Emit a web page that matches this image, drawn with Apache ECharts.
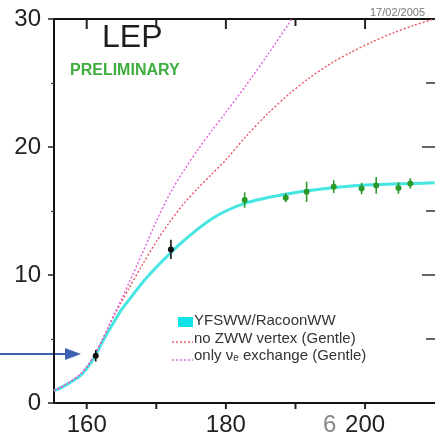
<!DOCTYPE html>
<html>
<head>
<meta charset="utf-8">
<script src="https://cdn.jsdelivr.net/npm/echarts@6/dist/echarts.min.js"></script>
<style>
  html, body { margin: 0; padding: 0; background: #fff; }
  #main { width: 435px; height: 437px; }
</style>
</head>
<body>
<div id="main"></div>
<script>
// sqrt(s) grid for the theory curves
var energy = [155.3, 157, 159, 160, 161, 162, 163, 164, 165, 166, 168, 170, 172, 174, 176, 178, 180, 183, 186, 189, 192, 195, 198, 201, 204, 207, 210];
var yfsww  = [0.95, 1.4, 2.1, 2.7, 3.45, 4.5, 5.5, 6.4, 7.3, 8.0, 9.4, 10.6, 11.7, 12.7, 13.6, 14.4, 15.0, 15.65, 16.05, 16.35, 16.6, 16.8, 16.95, 17.05, 17.1, 17.15, 17.2];
var noZww  = [0.95, 1.45, 2.2, 2.8, 3.6, 4.65, 5.8, 6.9, 7.9, 8.9, 10.8, 12.6, 14.2, 15.6, 16.8, 17.9, 19.0, 20.9, 22.6, 24.1, 25.4, 26.5, 27.4, 28.2, 28.9, 29.5, 30.0];
var nuEnergy = [155.3, 157, 159, 160, 161, 162, 163, 164, 165, 166, 168, 170, 172, 174, 176, 178, 180, 183, 186, 189, 190];
var nuOnly   = [0.95, 1.45, 2.2, 2.85, 3.65, 4.7, 5.8, 7.0, 8.1, 9.3, 11.7, 14.2, 16.4, 18.2, 19.8, 21.3, 22.7, 24.9, 27.2, 29.6, 30.4];

// measurements
var thrEnergy = [161.3, 172.1];
var thrXsec   = [3.69, 12.0];
var thrErr    = [0.45, 0.75];
var lepEnergy = [182.7, 188.6, 191.6, 195.5, 199.5, 201.6, 204.8, 206.5];
var lepXsec   = [15.86, 16.04, 16.5, 16.9, 16.75, 17.0, 16.8, 17.15];
var lepErr    = [0.6, 0.35, 0.8, 0.5, 0.45, 0.65, 0.45, 0.4];

var xTicks = [160, 170, 180, 190, 200];
var xLabels = [160, 180, 200];
var yTicks = [5, 10, 15, 20, 25];

var X_MIN = 155.3, X_MAX = 210.05, Y_MAX = 30;
var FONT = 'Liberation Sans';

function pairs(xs, ys) {
    return xs.map(function (x, i) { return [x, ys[i]]; });
}
function triples(xs, ys, es) {
    return xs.map(function (x, i) { return [x, ys[i], es[i]]; });
}

function errRender(color) {
    return function (params, api) {
        var x = api.value(0), y = api.value(1), e = api.value(2);
        var c = api.coord([x, y]);
        var hi = api.coord([x, y + e]);
        var lo = api.coord([x, y - e]);
        return {
            type: 'group',
            children: [
                { type: 'line', shape: { x1: c[0], y1: hi[1], x2: c[0], y2: lo[1] }, style: { stroke: color, lineWidth: 1.6 } },
                { type: 'circle', shape: { cx: c[0], cy: c[1], r: 3 }, style: { fill: color } }
            ]
        };
    };
}

// ticks on top (inward) and bottom (outward) of the frame
function xTickRender(params, api) {
    var v = api.value(0);
    var top = api.coord([v, Y_MAX]);
    var bot = api.coord([v, 0]);
    return {
        type: 'group',
        children: [
            { type: 'line', shape: { x1: top[0], y1: top[1], x2: top[0], y2: top[1] + (v % 20 === 0 ? 10 : 7) }, style: { stroke: '#222', lineWidth: 2 } },
            { type: 'line', shape: { x1: bot[0], y1: bot[1], x2: bot[0], y2: bot[1] + 6 }, style: { stroke: '#222', lineWidth: 2 } }
        ]
    };
}
// ticks on the right frame (inward)
function yTickRender(params, api) {
    var v = api.value(1);
    var p = api.coord([X_MAX, v]);
    var len = v % 10 === 0 ? 13 : 9;
    return { type: 'rect', shape: { x: p[0] - len, y: p[1] - 0.75, width: len, height: 1.5 }, style: { fill: '#333' } };
}

var chart = echarts.init(document.getElementById('main'), null, { renderer: 'canvas' });

chart.setOption({
    animation: false,
    backgroundColor: '#fff',
    grid: { left: 54, top: 19, width: 386, height: 384 },
    xAxis: [{
        type: 'value', min: X_MIN, max: X_MAX, position: 'bottom',
        axisLine: { show: true, onZero: false, lineStyle: { color: '#111', width: 2 } },
        axisTick: { show: false },
        axisLabel: { customValues: xLabels, fontSize: 24, fontFamily: FONT, color: '#222', margin: 10 },
        splitLine: { show: false }
    }, {
        type: 'value', min: X_MIN, max: X_MAX, position: 'top',
        axisLine: { show: true, onZero: false, lineStyle: { color: '#111', width: 2 } },
        axisTick: { show: false },
        axisLabel: { show: false },
        splitLine: { show: false }
    }],
    yAxis: [{
        type: 'value', min: 0, max: Y_MAX, interval: 10, position: 'left',
        axisLine: { show: true, onZero: false, lineStyle: { color: '#111', width: 2 } },
        axisTick: { show: true, length: 6, lineStyle: { color: '#222', width: 1.5 } },
        minorTick: { show: true, splitNumber: 2, length: 3, lineStyle: { color: '#444', width: 1.2 } },
        axisLabel: { fontSize: 24, fontFamily: FONT, color: '#222', margin: 13 },
        splitLine: { show: false }
    }],
    series: [{
        name: 'YFSWW/RacoonWW', type: 'line', data: pairs(energy, yfsww),
        showSymbol: false, smooth: 0.3, clip: true,
        lineStyle: { color: '#45e6e2', width: 3 }
    }, {
        name: 'no ZWW vertex (Gentle)', type: 'line', data: pairs(energy, noZww),
        showSymbol: false, smooth: 0.3, clip: true,
        lineStyle: { color: '#e8555f', width: 1.4, type: [2, 2] }
    }, {
        name: 'only ve exchange (Gentle)', type: 'line', data: pairs(nuEnergy, nuOnly),
        showSymbol: false, smooth: 0.3, clip: true,
        lineStyle: { color: '#e060dc', width: 1.4, type: [2, 2] }
    }, {
        type: 'custom', data: triples(lepEnergy, lepXsec, lepErr),
        encode: { x: 0, y: 1 }, renderItem: errRender('#2b9a2b'), z: 5
    }, {
        type: 'custom', data: triples(thrEnergy, thrXsec, thrErr),
        encode: { x: 0, y: 1 }, renderItem: errRender('#111'), z: 5
    }, {
        type: 'custom', clip: false, silent: true, z: 6,
        data: xTicks.map(function (v) { return [v, 15]; }),
        encode: { x: 0, y: 1 }, renderItem: xTickRender
    }, {
        type: 'custom', clip: false, silent: true, z: 6,
        data: yTicks.map(function (v) { return [X_MAX, v]; }),
        encode: { x: 0, y: 1 }, renderItem: yTickRender
    }],
    graphic: [
        { type: 'text', left: 102, top: 22, style: { text: 'LEP', font: '32px ' + FONT, fill: '#1e1e1e' } },
        { type: 'text', left: 70, top: 63, style: { text: 'PRELIMINARY', font: 'bold 16px ' + FONT, fill: '#3fae3f' } },
        { type: 'text', left: 370, top: 7, style: { text: '17/02/2005', font: '11px ' + FONT, fill: '#777' } },
        { type: 'text', left: 323, top: 413, style: { text: '6', font: '24px ' + FONT, fill: '#888' } },
        // legend
        { type: 'rect', shape: { x: 178, y: 317, width: 15, height: 10 }, style: { fill: '#10e4e6' } },
        { type: 'text', left: 194, top: 313, style: { text: 'YFSWW/RacoonWW', font: '15px ' + FONT, fill: '#333' } },
        { type: 'line', shape: { x1: 172, y1: 342, x2: 193, y2: 342 }, style: { stroke: '#e8555f', lineWidth: 1.4, lineDash: [2, 2] } },
        { type: 'text', left: 194, top: 331, style: { text: 'no ZWW vertex (Gentle)', font: '15px ' + FONT, fill: '#333' } },
        { type: 'line', shape: { x1: 172, y1: 360, x2: 193, y2: 360 }, style: { stroke: '#e060dc', lineWidth: 1.4, lineDash: [2, 2] } },
        {
            type: 'text', left: 194, top: 348,
            style: {
                text: 'only \u03bd{sub|e} exchange (Gentle)', font: '15px ' + FONT, fill: '#333',
                rich: { sub: { fontSize: 10, fontFamily: FONT, fill: '#333', verticalAlign: 'bottom', padding: [6, 0, 0, 0] } }
            }
        },
        // arrow
        { type: 'line', shape: { x1: 0, y1: 354, x2: 68, y2: 354 }, style: { stroke: '#3d62b2', lineWidth: 2.2 } },
        { type: 'polygon', shape: { points: [[65, 348], [81, 354], [65, 360]] }, style: { fill: '#3d62b2' } }
    ]
});
</script>
</body>
</html>
